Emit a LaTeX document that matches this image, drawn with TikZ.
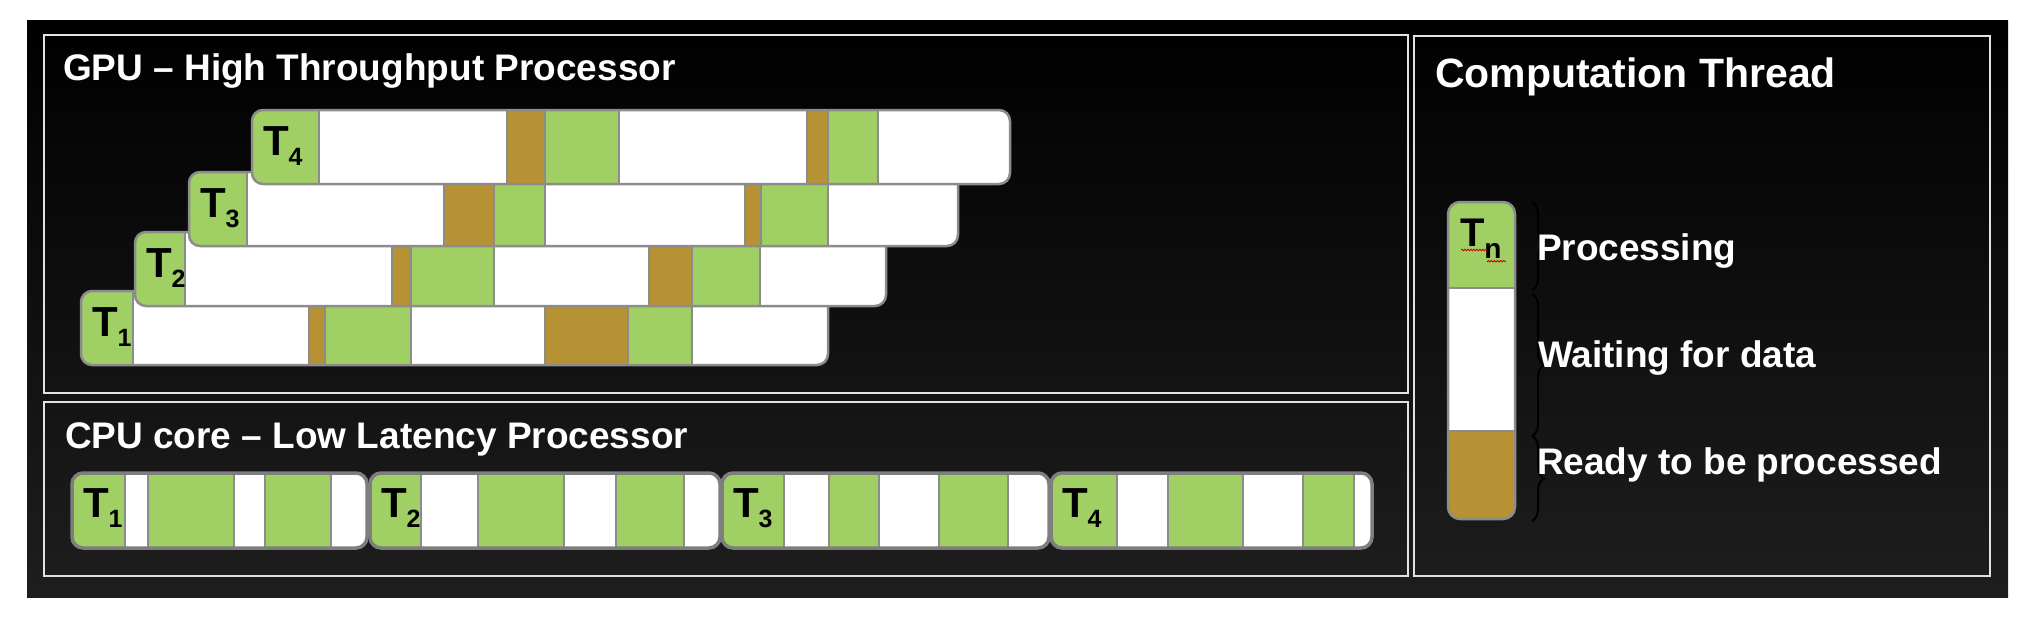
\documentclass[tikz,border=0pt]{standalone}
\usepackage{fontspec}
\setmainfont{Liberation Sans}
\usetikzlibrary{decorations.pathreplacing,decorations.pathmorphing}
\definecolor{procgreen}{HTML}{A0CF63}
\definecolor{readybrown}{HTML}{B79234}
\definecolor{barline}{HTML}{8C8C8C}
\definecolor{panelline}{HTML}{E2E2E2}
\definecolor{bgdark}{HTML}{1E1E1E}
\newcommand{\tsub}[1]{\raisebox{-10pt}{\fontsize{25}{25}\selectfont\bfseries #1}}

\begin{document}
\begin{tikzpicture}[
    x=1pt, y=-1pt,
    every node/.style={inner sep=0pt, outer sep=0pt},
    panel/.style={draw=panelline, line width=2pt},
    title/.style={anchor=base west, text=white,
                  font=\fontsize{37}{37}\selectfont\bfseries},
    lgtext/.style={anchor=base west, text=white,
                   font=\fontsize{37}{37}\selectfont\bfseries},
    tlabel/.style={anchor=base west, text=black,
                   font=\fontsize{42}{42}\selectfont\bfseries},
    bar/.style={draw=barline, line width=2.5pt, rounded corners=11pt},
    cpubar/.style={draw=barline!90!black, line width=3.5pt, rounded corners=11pt},
    divider/.style={draw=barline, line width=2pt},
    lgbrace/.style={draw=black, line width=2pt, decorate,
                    decoration={brace, amplitude=12pt}},
]

\useasboundingbox (0,0) rectangle (2022,622);
\fill[white] (0,0) rectangle (2022,622);
\shade[top color=black, middle color=black!94!white, bottom color=bgdark]
  (27,20) rectangle (2008,597);

% Panels
\draw[panel] (44,35) rectangle (1408,393);
\draw[panel] (44,402) rectangle (1408,576);
\draw[panel] (1414,36) rectangle (1990,576);

\node[title] (gputitle) at (63,80) {GPU -- High Throughput Processor};
\node[title] (cputitle) at (65,448) {CPU core -- Low Latency Processor};
\node[title, font=\fontsize{41}{41}\selectfont\bfseries] (lgtitle) at (1435,87)
  {Computation Thread};

% GPU: staggered threads, T1 at the back
\foreach \n/\xa/\xl/\xb/\ya/\cells in {
  1/81/133/828/291/{readybrown/309/325,procgreen/325/411,readybrown/545/628,procgreen/628/692},
  2/135/185/886/232/{readybrown/392/411,procgreen/411/494,readybrown/649/692,procgreen/692/760},
  3/189/247/958/172/{readybrown/444/494,procgreen/494/545,readybrown/745/761,procgreen/761/828},
  4/252/319/1010/110/{readybrown/507/545,procgreen/545/619,readybrown/807/828,procgreen/828/878}}{
  \begin{scope}
    \fill[white, rounded corners=11pt] (\xa,\ya) rectangle (\xb,\ya+74);
    \clip[rounded corners=11pt] (\xa,\ya) rectangle (\xb,\ya+74);
    \fill[procgreen] (\xa,\ya) rectangle (\xl,\ya+74);
    \foreach \c/\p/\q in \cells{
      \fill[\c] (\p,\ya) rectangle (\q,\ya+74);
      \draw[divider] (\p,\ya) -- (\p,\ya+74) (\q,\ya) -- (\q,\ya+74);
    }
    \draw[divider] (\xl,\ya) -- (\xl,\ya+74);
  \end{scope}
  \draw[bar] (\xa,\ya) rectangle (\xb,\ya+74);
  \node[tlabel] (gpu\n) at (\xa+11,\ya+45) {T\tsub{\n}};
}

% CPU: threads one after the other
\foreach \n/\xa/\xl/\xb/\cells in {
  1/72/125/367/{148/234,265/331},
  2/370/421/720/{478/564,616/684},
  3/722/784/1049/{829/879,939/1008},
  4/1051/1117/1372/{1168/1243,1303/1354}}{
  \begin{scope}
    \fill[white, rounded corners=11pt] (\xa,473) rectangle (\xb,548);
    \clip[rounded corners=11pt] (\xa,473) rectangle (\xb,548);
    \fill[procgreen] (\xa,473) rectangle (\xl,548);
    \foreach \p/\q in \cells{
      \fill[procgreen] (\p,473) rectangle (\q,548);
      \draw[divider] (\p,473) -- (\p,548) (\q,473) -- (\q,548);
    }
    \draw[divider] (\xl,473) -- (\xl,548);
  \end{scope}
  \draw[cpubar] (\xa,473) rectangle (\xb,548);
  \node[tlabel] (cpu\n) at (\xa+11,517) {T\tsub{\n}};
}

% Legend bar
\begin{scope}
  \clip[rounded corners=12pt] (1448,202) rectangle (1515,519);
  \fill[procgreen] (1448,202) rectangle (1515,288);
  \fill[white] (1448,288) rectangle (1515,431);
  \fill[readybrown] (1448,431) rectangle (1515,519);
\end{scope}
\draw[divider] (1448,288) -- (1515,288) (1448,431) -- (1515,431);
\draw[bar, rounded corners=12pt] (1448,202) rectangle (1515,519);
\node[tlabel, font=\fontsize{40}{40}\selectfont\bfseries] (lgtn) at (1460,246)
  {T\raisebox{-12pt}{\fontsize{28}{28}\selectfont\bfseries n}};
\draw[red!80!black, line width=0.8pt, decorate,
      decoration={snake, amplitude=0.8pt, segment length=3pt}]
  (1461,250) -- (1486,250) (1487,262) -- (1506,262);

\draw[lgbrace] (1532,202) -- (1532,290);
\draw[lgbrace] (1532,294) -- (1532,436);
\draw[lgbrace] (1532,436) -- (1532,521);

\node[lgtext] (lgproc) at (1537,260) {Processing};
\node[lgtext] (lgwait) at (1538,367) {Waiting for data};
\node[lgtext] (lgready) at (1537,474) {Ready to be processed};

\end{tikzpicture}
\end{document}
